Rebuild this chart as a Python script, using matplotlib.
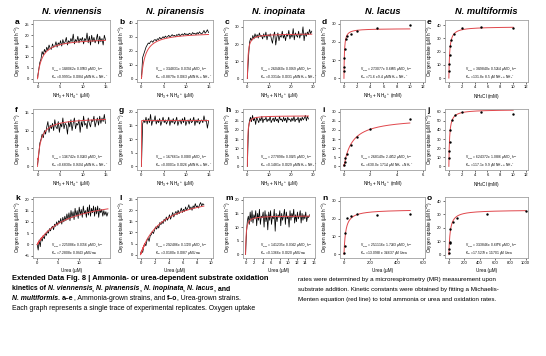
import numpy as np
import matplotlib
matplotlib.use("Agg")
from matplotlib import pyplot as plt

W, H = 546, 356

titles = ["N. viennensis", "N. piranensis", "N. inopinata", "N. lacus", "N. multiformis"]
letters = list("abcdefghijklmno")

# fit results printed in each panel (Km in uM as written)
vmax_txt = ["18.8062 ± 0.0583", "33.4831 ± 0.0734", "26.0460 ± 0.0019", "27.3077 ± 0.6685", "38.9840 ± 0.5254",
            "13.6742 ± 0.0283", "16.7661 ± 0.0080", "27.7898 ± 0.0025", "26.8149 ± 2.4612", "62.4372 ± 1.0886",
            "22.5086 ± 0.0356", "29.2486 ± 0.1120", "14.1235 ± 0.0142", "25.1116 ± 1.7283", "33.3846 ± 0.6876"]
km_txt = ["0.9991 ± 0.0084", "0.8879 ± 0.0063", "0.3314 ± 0.0031", "71.6 ± 9.4", "131.8 ± 8.5",
          "0.6830 ± 0.0104", "0.0001 ± 0.0026", "0.1481 ± 0.0029", "630.0 ± 171.4", "117.1 ± 9.9",
          "7.2808 ± 0.0343", "3.0180 ± 0.0087", "0.1366 ± 0.0020", "13.0988 ± 3.6637", "17.5279 ± 1.5701"]

# continuous MR traces (evenly sampled from 0 to x_end)
a_end = 15
a_y = [0.5, 4.0, 7.5, 9.0, 12.5, 11.0, 13.5, 12.0, 14.5, 13.0, 15.5, 14.0, 13.5, 16.0, 14.5, 15.0, 17.0, 14.5, 16.5, 15.5,
       17.5, 15.0, 18.0, 16.0, 17.0, 19.0, 15.5, 17.5, 16.5, 18.5, 17.0, 20.5, 16.0, 18.0, 17.0, 19.5, 16.5, 18.5, 17.5, 19.0,
       16.0, 18.5, 17.5, 21.0, 16.5, 19.5, 15.5, 20.0, 17.0, 19.0, 16.5, 18.0, 20.5, 16.0, 19.5, 17.0, 18.5, 15.5, 20.0, 18.0]
b_end = 15
b_y = [0, 15.0, 17.5, 20.0, 22.5, 24.0, 25.5, 25.0, 26.5, 27.0, 26.0, 27.5, 28.0, 27.0, 28.5, 28.0, 29.5, 28.5, 29.0, 30.0,
       29.0, 30.5, 29.5, 30.0, 31.0, 30.0, 30.5, 31.5, 30.5, 31.0, 30.0, 31.5, 31.0, 32.0, 30.5, 31.5, 32.0, 31.0, 32.5, 31.5,
       32.0, 31.0, 32.5, 32.0, 31.5, 33.0, 32.0, 32.5, 31.5, 33.0, 32.0, 33.5, 32.5, 32.0, 33.0, 34.5, 32.5, 33.5, 35.0, 33.0]
c_end = 29.5
c_y = [0, 12.0, 21.0, 23.5, 22.0, 25.0, 23.0, 26.0, 24.0, 25.5, 23.5, 26.5, 24.5, 25.0, 23.0, 26.0, 24.0, 27.0, 22.5, 25.5,
       24.5, 26.0, 23.0, 20.5, 25.0, 27.0, 19.5, 24.0, 26.5, 22.0, 25.0, 24.0, 27.5, 23.5, 25.5, 22.0, 26.0, 24.5, 28.0, 23.0,
       25.5, 24.0, 29.0, 22.5, 26.5, 25.0, 24.0, 27.5, 23.5, 26.0, 25.0, 30.0, 22.0, 26.5, 24.5, 27.0, 25.5, 28.5, 26.0, 27.5]
f_end = 15
f_y = [0.5, 3.0, 6.5, 7.5, 9.0, 8.0, 10.0, 9.0, 11.0, 12.5, 9.5, 11.5, 10.5, 12.0, 10.0, 13.0, 11.0, 10.5, 12.5, 9.5,
       12.0, 11.0, 13.5, 10.5, 12.0, 11.5, 9.0, 12.5, 11.0, 13.0, 10.0, 12.0, 13.5, 10.5, 12.0, 11.5, 13.0, 9.5, 12.5, 11.0,
       14.0, 11.5, 12.0, 10.5, 13.5, 12.0, 11.0, 13.0, 12.5, 14.0, 11.0, 12.5, 13.5, 11.5, 14.0, 12.0, 13.5, 12.5, 14.5, 12.0]
g_end = 15
g_y = [0, 15.5, 17.0, 16.0, 18.0, 15.5, 17.5, 16.0, 19.0, 15.0, 17.0, 16.5, 18.5, 15.5, 17.0, 16.0, 17.5, 15.0, 16.5, 18.0,
       16.0, 17.0, 15.5, 16.5, 18.0, 15.0, 17.0, 16.0, 17.5, 15.5, 16.5, 18.0, 15.0, 16.5, 17.0, 15.5, 17.5, 16.0, 18.0, 15.0,
       16.5, 17.0, 15.5, 17.5, 16.0, 16.5, 18.0, 15.0, 17.0, 16.0, 17.5, 15.5, 16.5, 17.0, 16.0, 18.5, 16.5, 17.0, 14.0, 16.5]
h_end = 28
h_y = [0, 20.0, 25.0, 27.0, 24.5, 28.0, 25.0, 26.5, 23.0, 27.0, 25.5, 24.0, 26.5, 25.0, 27.5, 24.0, 26.0, 25.5, 27.0, 24.5,
       26.0, 25.0, 27.5, 24.0, 25.5, 26.5, 24.5, 27.0, 25.0, 26.0, 24.0, 27.5, 25.5, 26.0, 24.5, 27.0, 25.0, 26.5, 24.0, 27.0,
       25.5, 26.0, 24.5, 26.5, 25.0, 27.5, 24.5, 26.0, 25.5, 27.0, 24.0, 26.5, 25.0, 27.0, 25.5, 26.5, 28.0, 25.0, 27.5, 26.0]
k_end = 17
k_y = [0.0, -2.5, 2.0, -1.0, 3.0, 1.5, 4.0, 2.5, 5.0, 4.0, 6.0, 5.0, 7.0, 6.0, 7.5, 8.0, 6.5, 9.0, 8.0, 10.0,
       8.5, 10.5, 9.5, 11.5, 9.0, 12.0, 10.0, 12.5, 10.5, 13.5, 11.0, 14.0, 10.5, 15.0, 12.0, 14.5, 11.0, 16.0, 12.5, 15.0,
       11.5, 16.5, 13.0, 15.5, 12.0, 17.0, 13.5, 15.0, 12.0, 16.5, 13.0, 17.5, 12.5, 16.0, 14.0, 17.0, 12.5, 16.5, 13.5, 17.0,
       12.0, 16.0, 14.0, 15.5, 12.5, 15.0, 13.0, 14.5, 12.5, 14.0]
l_end = 9
l_y = [0.5, 2.0, 1.0, 3.5, 5.0, 4.0, 6.5, 7.5, 6.0, 8.5, 9.0, 10.5, 9.5, 11.0, 12.5, 11.5, 13.0, 12.0, 14.5, 13.5,
       15.0, 14.0, 16.0, 15.0, 17.0, 15.5, 16.5, 18.0, 16.0, 17.5, 19.0, 17.0, 18.5, 19.5, 18.0, 20.0, 18.5, 19.5, 21.0, 19.0,
       20.5, 19.5, 21.5, 20.0, 21.0, 22.5, 20.5, 21.5, 20.0, 22.0, 21.0, 23.0, 21.5, 22.0, 21.0, 22.5, 23.5, 22.0, 23.0, 22.5]
m_end = 15
m_y = [0, 8.0, 12.5, 14.0, 11.0, 15.5, 12.0, 16.0, 11.5, 14.5, 13.0, 16.0, 10.5, 15.0, 12.5, 16.5, 11.0, 14.0, 13.5, 15.5,
       10.0, 16.0, 12.0, 14.5, 9.0, 15.5, 12.5, 16.0, 11.0, 14.0, 13.0, 16.5, 8.5, 15.0, 12.0, 14.5, 13.5, 16.0, 10.5, 15.0,
       12.5, 14.0, 16.5, 11.0, 15.5, 13.0, 14.0, 10.0, 16.0, 12.5, 15.0, 13.5, 16.5, 11.5, 14.5, 12.0, 15.5, 13.0, 14.0, 16.0,
       11.5, 15.0, 12.5, 14.5, 13.0, 15.5, 12.0, 14.0, 13.5, 14.5]

# discrete substrate additions
d_x = [0.01, 0.02, 0.05, 0.1, 0.3, 0.5, 1, 2, 5, 10]
d_y = [4, 6.5, 11, 16, 21.5, 23.5, 24.5, 26, 27.5, 29.5]
e_x = [0.02, 0.05, 0.1, 0.2, 0.4, 0.8, 2, 5, 10]
e_y = [5, 11, 17.5, 24, 29, 33.5, 38, 39, 38]
i_x = [0.02, 0.05, 0.1, 0.2, 0.5, 1, 2, 5]
i_y = [1, 2.5, 4.5, 7, 12, 16, 20.5, 26]
j_x = [0.02, 0.05, 0.1, 0.2, 0.5, 1, 2, 5, 10]
j_y = [9, 17, 27, 40, 51, 56, 60, 60, 57]
n_x = [2, 5, 10, 25, 50, 100, 250, 500]
n_y = [1, 4.5, 12, 20.5, 21.5, 22.5, 22, 22.5]
o_x = [2, 5, 10, 15, 20, 50, 100, 500, 1000]
o_y = [1.5, 4, 8.5, 9.5, 19, 24.5, 27.5, 30.5, 32.5]

traces = {"a": (a_end, a_y), "b": (b_end, b_y), "c": (c_end, c_y), "f": (f_end, f_y), "g": (g_end, g_y),
          "h": (h_end, h_y), "k": (k_end, k_y), "l": (l_end, l_y), "m": (m_end, m_y)}
points = {"d": (d_x, d_y), "e": (e_x, e_y), "i": (i_x, i_y), "j": (j_x, j_y), "n": (n_x, n_y), "o": (o_x, o_y)}

NH = "NH$_3$ + NH$_4$$^+$"
xlabels = {"a": NH + " (µM)", "b": NH + " (µM)", "c": NH + " (µM)", "d": NH + " (mM)", "e": "NH$_4$Cl (mM)",
           "f": NH + " (µM)", "g": NH + " (µM)", "h": NH + " (µM)", "i": NH + " (mM)", "j": "NH$_4$Cl (mM)",
           "k": "Urea (µM)", "l": "Urea (µM)", "m": "Urea (µM)", "n": "Urea (µM)", "o": "Urea (µM)"}
mm_panels = {"d", "e", "i", "j"}

# axis setup: ylim, yticks, xlim, xticks
axes_spec = {
    "a": ((-1.5, 27), np.arange(0, 26, 5), (-1, 16), [0, 5, 10, 15]),
    "b": ((-2.5, 42), np.arange(0, 41, 10), (-1, 16), [0, 5, 10, 15]),
    "c": ((-2, 34), np.arange(0, 31, 10), (-2, 31), [0, 10, 20, 30]),
    "d": ((-2, 32), np.arange(0, 31, 10), (-0.6, 12.3), np.arange(0, 13, 2)),
    "e": ((-3, 44), np.arange(0, 41, 10), (-0.6, 12.3), np.arange(0, 13, 2)),
    "f": ((-1, 16), np.arange(0, 16, 5), (-1, 16), [0, 5, 10, 15]),
    "g": ((-1.3, 21), np.arange(0, 21, 5), (-1, 16), [0, 5, 10, 15]),
    "h": ((-2, 31.5), np.arange(0, 31, 5), (-2, 31), [0, 10, 20, 30]),
    "i": ((-2, 31.5), np.arange(0, 31, 5), (-0.3, 6.15), [0, 2, 4, 6]),
    "j": ((-4, 63), np.arange(0, 61, 10), (-0.6, 12.3), np.arange(0, 13, 2)),
    "k": ((-6, 21), np.arange(-5, 21, 5), (-1, 17.5), [0, 5, 10, 15]),
    "l": ((-1.5, 26), np.arange(0, 26, 5), (-0.5, 10.3), np.arange(0, 11, 2)),
    "m": ((-1.3, 21), np.arange(0, 21, 5), (-0.6, 16.3), np.arange(0, 17, 2)),
    "n": ((-2, 32), np.arange(0, 31, 10), (-30, 612), [0, 200, 400, 600]),
    "o": ((-2.5, 43), np.arange(0, 41, 10), (-50, 1030), np.arange(0, 1001, 200)),
}

col_px = [(33, 110), (137, 213), (243, 315), (340, 425), (445, 528)]
row_px = [(20, 82), (109, 170), (197, 258)]

RED = "#e0464b"
FR = "#a0a0a0"
SANS = ["Liberation Sans", "DejaVu Sans"]
plt.rcParams["font.family"] = SANS
plt.rcParams["mathtext.fontset"] = "custom"
plt.rcParams["mathtext.rm"] = "Liberation Sans"
plt.rcParams["mathtext.it"] = "Liberation Sans:italic"

fig = plt.figure(figsize=(W / 100, H / 100), dpi=100)

for idx, p in enumerate(letters):
    r, c = divmod(idx, 5)
    (x0, x1), (y0, y1) = col_px[c], row_px[r]
    ax = fig.add_axes([x0 / W, 1 - y1 / H, (x1 - x0) / W, (y1 - y0) / H])
    ylim, yt, xlim, xt = axes_spec[p]
    vm = float(vmax_txt[idx].split(" ")[0])
    kmv = float(km_txt[idx].split(" ")[0])
    if p in mm_panels:
        kmv = kmv / 1000.0

    if p in traces:
        xe, yy = traces[p]
        xx = np.linspace(0, xe, len(yy))
        ax.plot(xx, yy, color="black", lw=0.55, zorder=2)
        s = np.linspace(0, xe, 400)
    else:
        px, py = points[p]
        ax.scatter(px, py, s=3, color="black", zorder=3, linewidths=0)
        s = np.linspace(0, max(px), 400)
    s = np.concatenate([[0, kmv * 0.01, kmv * 0.05, kmv * 0.2], s[1:]])
    ax.plot(s, vm * s / (kmv + s), color=RED, lw=0.7, zorder=2.5)

    ax.set_ylim(*ylim)
    ax.set_xlim(*xlim)
    ax.set_yticks(yt)
    ax.set_xticks(xt)
    for sp in ax.spines.values():
        sp.set_color(FR)
        sp.set_linewidth(0.6)
    ax.tick_params(labelsize=3, length=1.5, width=0.4, pad=1, colors="black")
    ax.set_xlabel(xlabels[p], fontsize=3.3, labelpad=1.5)
    ax.set_ylabel("Oxygen uptake (µM h$^{-1}$)", fontsize=3.3, labelpad=1.5)

    unit = "µM Urea" if r == 2 else "µM " + NH
    ax.text(0.24, 0.185, "V$_{max}$ = " + vmax_txt[idx] + " µM O$_2$ h$^{-1}$", transform=ax.transAxes,
            fontsize=2.3, va="baseline")
    ax.text(0.24, 0.07, "K$_m$ = " + km_txt[idx] + " " + unit, transform=ax.transAxes,
            fontsize=2.3, va="baseline")

    fig.text((x0 - 18) / W, 1 - (y0 + 2) / H, p, fontsize=6, fontweight="bold", va="center", ha="left")
    if r == 0:
        fig.text((x0 + x1) / 2 / W, 1 - 12 / H, titles[c], fontsize=6.7, fontweight="bold",
                 style="italic", ha="center", va="center")

# caption with mixed bold / italic runs
CAP = ["Liberation Sans Narrow", "Liberation Sans", "DejaVu Sans"]
renderer = fig.canvas.get_renderer()

line1 = "Extended Data Fig. 8 | Ammonia- or urea-dependent substrate oxidation"
line2 = [("kinetics of ", "normal"), ("N. viennensis", "italic"), (", ", "normal"), ("N. piranensis", "italic"),
         (", ", "normal"), ("N. inopinata", "italic"), (", ", "normal"), ("N. lacus", "italic"), (", and", "normal")]
line4 = "Each graph represents a single trace of experimental replicates. Oxygen uptake"
right = ["rates were determined by a microrespirometry (MR) measurement upon",
         "substrate addition. Kinetic constants were obtained by fitting a Michaelis-",
         "Menten equation (red line) to total ammonia or urea and oxidation rates."]


def width_at10(parts, weight):
    w = 0
    for txt, st in parts:
        t = fig.text(0, 0, txt, fontsize=10, family=CAP, fontweight=weight, style=st)
        w += t.get_window_extent(renderer).width
        t.remove()
    return w


fs_bold = 10 * 258 / width_at10([(line1, "normal")], "bold")
fs_line2 = 10 * 218 / width_at10(line2, "bold")
fs_left = 10 * 245 / width_at10([(line4, "normal")], "normal")
fs_right = 10 * 200 / width_at10([(right[0], "normal")], "normal")


def runs(x, y, parts):
    for txt, wt, st, fs in parts:
        t = fig.text(x / W, 1 - y / H, txt, fontsize=fs, family=CAP, fontweight=wt,
                     style=st, va="center", ha="left")
        x += t.get_window_extent(renderer).width


B, I, N = "bold", "italic", "normal"
runs(12, 279, [(line1, B, N, fs_bold)])
runs(12, 289, [(txt, B, st, fs_line2) for txt, st in line2])
runs(12, 299, [("N. multiformis", B, I, fs_line2), (". ", B, N, fs_line2), ("a\u2013e", B, N, fs_line2),
               (", Ammonia-grown strains, and ", N, N, fs_left), ("f\u2013o", B, N, fs_line2),
               (", Urea-grown strains.", N, N, fs_left)])
runs(12, 309, [(line4, N, N, fs_left)])
for k, txt in enumerate(right):
    runs(298, 279 + 10 * k, [(txt, N, N, fs_right)])

fig.savefig("out.png", dpi=100)
